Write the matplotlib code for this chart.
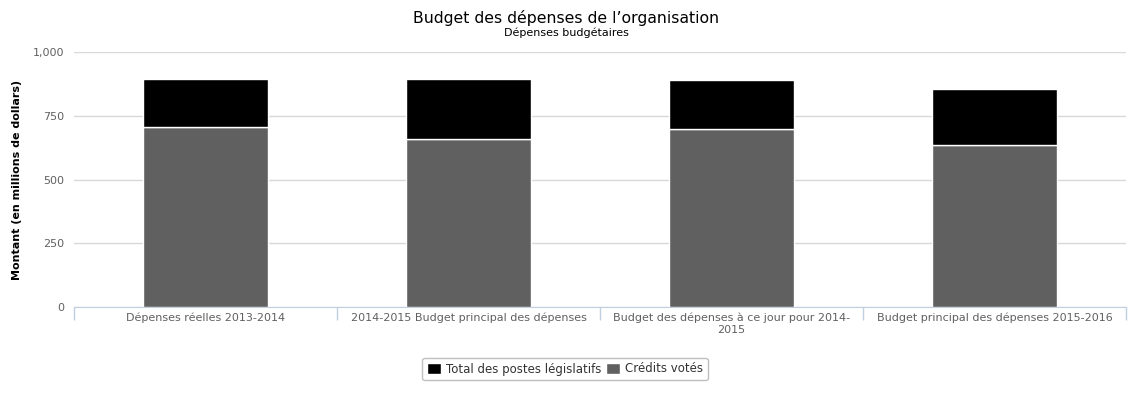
import matplotlib
matplotlib.use("Agg")
import matplotlib.pyplot as plt
import numpy as np

categories = ["Dépenses réelles 2013-2014",
              "2014-2015 Budget principal des dépenses",
              "Budget des dépenses à ce jour pour 2014-\n2015",
              "Budget principal des dépenses 2015-2016"]
credits_votes = [706, 657, 698, 637]
postes_legislatifs = [189, 238, 193, 216]
yticks = [0, 250, 500, 750, 1000]
ytick_labels = ["0", "250", "500", "750", "1,000"]

plt.rcParams['font.family'] = ['DejaVu Sans']
fig = plt.figure(figsize=(11.33, 3.95), dpi=100)
ax = fig.add_axes([74/1133, 1-307/395, (1126-74)/1133, (307-52)/395])

x = np.arange(len(categories))
w = 0.475
ax.bar(x, credits_votes, w, color="#606060", edgecolor="white", linewidth=1, zorder=3, label="Crédits votés")
ax.bar(x, postes_legislatifs, w, bottom=credits_votes, color="#000000", edgecolor="white", linewidth=1, zorder=3, label="Total des postes législatifs")

ax.set_xlim(-0.5, len(categories) - 0.5)
ax.set_ylim(0, 1000)
ax.set_yticks(yticks)
ax.set_yticklabels(ytick_labels, color="#606060", fontsize=8)
ax.tick_params(axis='y', length=0, pad=7)
ax.grid(axis='y', color="#d8d8d8", linewidth=1, zorder=0)
ax.set_xticks(x)
ax.set_xticklabels(categories, color="#606060", fontsize=8)
ax.tick_params(axis='x', which='major', length=0, pad=4)
ax.set_xticks(np.arange(-0.5, len(categories), 1.0), minor=True)
ax.tick_params(axis='x', which='minor', length=9, color="#C0D0E0", width=1)
for s in ["top", "right", "left"]:
    ax.spines[s].set_visible(False)
ax.spines["bottom"].set_color("#C0D0E0")
ax.set_ylabel("Montant (en millions de dollars)", fontsize=8, fontweight="bold", color="#000000")
ax.yaxis.set_label_coords((22 - 74) / (1126 - 74), 0.5)

fig.text(0.5, 1-18/395, "Budget des dépenses de l\u2019organisation", ha="center", va="center", fontsize=11.3, color="#000000")
fig.text(0.5, 1-33/395, "Dépenses budgétaires", ha="center", va="center", fontsize=8, color="#000000")

handles, labels = ax.get_legend_handles_labels()
leg = fig.legend(handles[::-1], labels[::-1], loc="center", bbox_to_anchor=(565/1133, 1-369/395), ncol=2,
                 frameon=True, fontsize=8.5, handlelength=1.2, handleheight=1.0, columnspacing=0.4,
                 handletextpad=0.4, borderpad=0.4, fancybox=True, edgecolor="#b0b0b0")
for t in leg.get_texts():
    t.set_color("#333333")
fig.savefig("out.png", dpi=100)
